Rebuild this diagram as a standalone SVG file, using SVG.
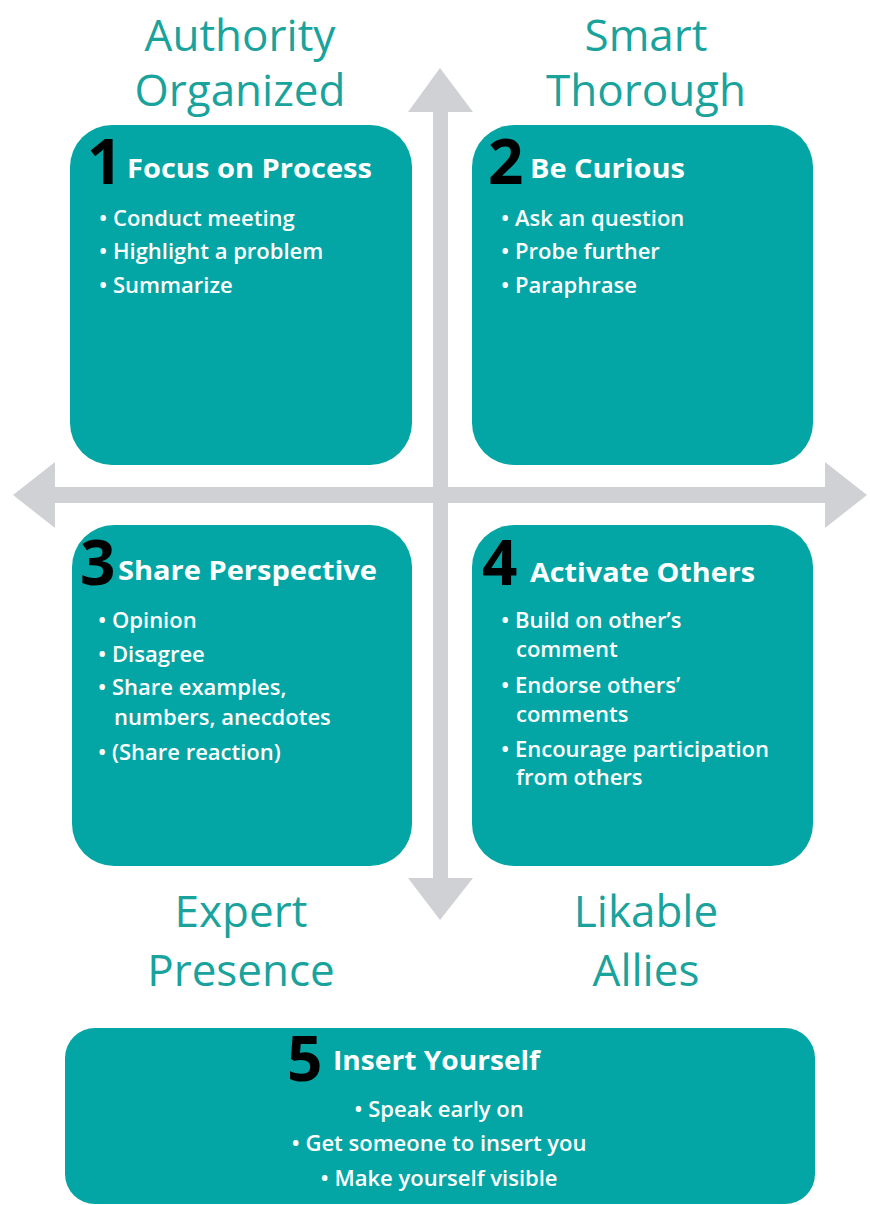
<svg xmlns="http://www.w3.org/2000/svg" width="870" height="1205" viewBox="0 0 870 1205">
<style>
.box{fill:#04a6a5}
.lbl{font-family:"Open Sans","Liberation Sans",sans-serif;font-size:44px;fill:#19a39c;text-anchor:middle}
.num{font-family:"Open Sans","Liberation Sans",sans-serif;font-weight:700;font-size:62px;fill:#000}
.ttl{font-family:"Open Sans","Liberation Sans",sans-serif;font-weight:700;font-size:27px;fill:#fff}
.bul{font-family:"Open Sans","Liberation Sans",sans-serif;font-weight:600;font-size:22px;fill:#fff}
.ctr{text-anchor:middle}
.arr{fill:#d0d1d5}
</style>
<rect width="870" height="1205" fill="#fff"/>
<g id="connectors">
<polygon class="arr" points="440,68 473,112 448,112 448,878 473,878 440,920 408,878 433,878 433,112 408,112"/>
<polygon class="arr" points="13,495 55,462 55,487 825,487 825,462 867,495 825,528 825,503 55,503 55,528"/>
</g>
<g id="label-authority">
<text class="lbl" x="240" y="51">Authority</text>
<text class="lbl" x="240" y="106">Organized</text>
</g>
<g id="label-smart">
<text class="lbl" x="646" y="51">Smart</text>
<text class="lbl" x="646" y="106">Thorough</text>
</g>
<g id="label-expert">
<text class="lbl" x="241" y="927">Expert</text>
<text class="lbl" x="241" y="986">Presence</text>
</g>
<g id="label-likable">
<text class="lbl" x="646" y="927">Likable</text>
<text class="lbl" x="646" y="986">Allies</text>
</g>
<g id="node1">
<rect class="box" x="70" y="125" width="342" height="340" rx="42"/>
<text class="num" x="87" y="184">1</text>
<text class="ttl" x="127" y="178" textLength="245" lengthAdjust="spacingAndGlyphs">Focus on Process</text>
<text class="bul" x="99" y="226">• Conduct meeting</text>
<text class="bul" x="99" y="259">• Highlight a problem</text>
<text class="bul" x="99" y="293">• Summarize</text>
</g>
<g id="node2">
<rect class="box" x="472" y="125" width="341" height="340" rx="42"/>
<text class="num" x="488" y="184">2</text>
<text class="ttl" x="530" y="178" textLength="155" lengthAdjust="spacingAndGlyphs">Be Curious</text>
<text class="bul" x="501" y="226">• Ask an question</text>
<text class="bul" x="501" y="259">• Probe further</text>
<text class="bul" x="501" y="293">• Paraphrase</text>
</g>
<g id="node3">
<rect class="box" x="72" y="525" width="340" height="341" rx="42"/>
<text class="num" x="80" y="585">3</text>
<text class="ttl" x="118" y="580" textLength="259" lengthAdjust="spacingAndGlyphs">Share Perspective</text>
<text class="bul" x="98" y="628">• Opinion</text>
<text class="bul" x="98" y="662">• Disagree</text>
<text class="bul" x="98" y="695">• Share examples,</text>
<text class="bul" x="114" y="725">numbers, anecdotes</text>
<text class="bul" x="98" y="760">• (Share reaction)</text>
</g>
<g id="node4">
<rect class="box" x="472" y="525" width="341" height="341" rx="42"/>
<text class="num" x="482" y="585">4</text>
<text class="ttl" x="530" y="582" textLength="225" lengthAdjust="spacingAndGlyphs">Activate Others</text>
<text class="bul" x="501" y="628">• Build on other’s</text>
<text class="bul" x="516" y="657">comment</text>
<text class="bul" x="501" y="693">• Endorse others’</text>
<text class="bul" x="516" y="722">comments</text>
<text class="bul" x="501" y="757">• Encourage participation</text>
<text class="bul" x="516" y="785">from others</text>
</g>
<g id="node5">
<rect class="box" x="65" y="1028" width="750" height="176" rx="30"/>
<text class="num" x="287" y="1081">5</text>
<text class="ttl" x="333" y="1070" textLength="207" lengthAdjust="spacingAndGlyphs">Insert Yourself</text>
<text class="bul ctr" x="439" y="1117">• Speak early on</text>
<text class="bul ctr" x="439" y="1151">• Get someone to insert you</text>
<text class="bul ctr" x="439" y="1186">• Make yourself visible</text>
</g>
</svg>
